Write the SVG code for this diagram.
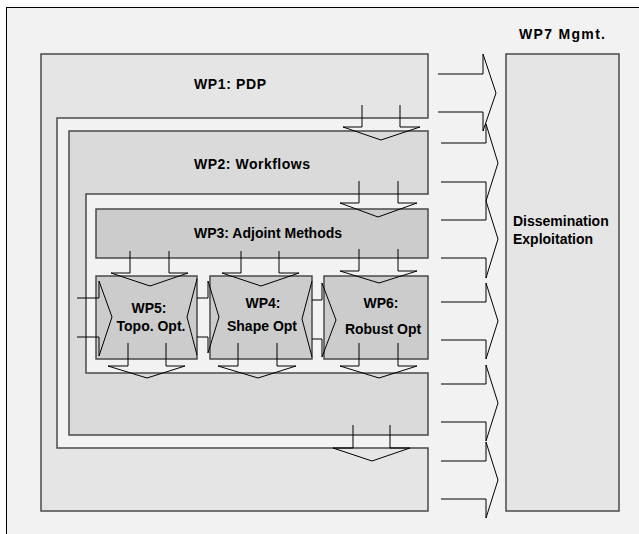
<svg xmlns="http://www.w3.org/2000/svg" width="639" height="534" viewBox="0 0 639 534">
  <defs>
    <style>
      .box { stroke: #4a4a4a; stroke-width: 1.5; }
      .wp1 { fill: #e5e5e5; }
      .wp2 { fill: #dadada; }
      .wp3 { fill: #cccccc; }
      .wp7 { fill: #e5e5e5; }
      .arr { fill: none; stroke: #000; stroke-width: 1; stroke-linejoin: miter; }
      .t { font-family: "Liberation Sans", Arial, Helvetica, sans-serif; font-size: 14px; font-weight: bold; fill: #000; }
      .c { text-anchor: middle; }
    </style>
  </defs>
  <rect x="0" y="0" width="639" height="534" fill="#ffffff"/>
  <rect x="6.5" y="7.5" width="640" height="540" fill="#f2f2f2" stroke="#000" stroke-width="1"/>

  <g id="wp1">
    <path class="box wp1" d="M41,54 H428 V118 H57 V448 H428 V511 H41 Z"/>
    <text class="t" x="194" y="89" textLength="72" lengthAdjust="spacing">WP1: PDP</text>
  </g>
  <g id="wp2">
    <path class="box wp2" d="M69,131 H428 V194 H86 V373 H428 V435 H69 Z"/>
    <text class="t" x="194" y="169" textLength="116" lengthAdjust="spacing">WP2: Workflows</text>
  </g>
  <g id="wp3">
    <rect class="box wp3" x="96" y="209" width="332" height="49"/>
    <text class="t" x="194" y="238">WP3: Adjoint Methods</text>
  </g>
  <g id="wp5">
    <rect class="box wp3" x="96" y="276" width="101" height="83"/>
    <text class="t c" x="149" y="313">WP5:</text>
    <text class="t c" x="151" y="331">Topo. Opt.</text>
  </g>
  <g id="wp4">
    <rect class="box wp3" x="210" y="276" width="102" height="83"/>
    <text class="t c" x="263" y="308">WP4:</text>
    <text class="t c" x="262" y="331">Shape Opt</text>
  </g>
  <g id="wp6">
    <rect class="box wp3" x="324" y="276" width="104" height="83"/>
    <text class="t c" x="381" y="308">WP6:</text>
    <text class="t c" x="383" y="334">Robust Opt</text>
  </g>
  <g id="wp7">
    <rect class="box wp7" x="506" y="54" width="113" height="457"/>
    <text class="t" x="519" y="39" textLength="86" lengthAdjust="spacing">WP7 Mgmt.</text>
    <text class="t" x="513" y="226">Dissemination</text>
    <text class="t" x="513" y="244">Exploitation</text>
  </g>

  <g id="connectors">
    <!-- down arrows -->
    <polyline class="arr" points="362,105 362,127 343,127 381,140 420,127 400,127 400,105"/>
    <polyline class="arr" points="359,181 359,203 340,203 378,217 417,203 398,203 398,181"/>
    <polyline class="arr" points="130,251 130,273 111,273 150,286 188,273 169,273 169,251"/>
    <polyline class="arr" points="241,251 241,273 222,273 261,286 299,273 279,273 279,251"/>
    <polyline class="arr" points="359,249 359,271 340,271 379,283 417,271 398,271 398,249"/>
    <polyline class="arr" points="128,343 128,366 108,366 147,378 185,366 166,366 166,343"/>
    <polyline class="arr" points="238,343 238,366 218,366 258,378 296,366 277,366 277,343"/>
    <polyline class="arr" points="359,343 359,366 340,366 379,378 417,366 398,366 398,343"/>
    <polyline class="arr" points="353,425 353,448 333,448 372,461 410,448 390,448 390,425"/>
    <!-- horizontal arrows between work packages -->
    <polyline class="arr" points="77,298 99,298 99,281 112,317 99,356 99,337 77,337"/>
    <polyline class="arr" points="197,279 187,317 197,355"/>
    <polyline class="arr" points="197,298 208,298 208,281 219,317 208,353 208,337 197,337"/>
    <polyline class="arr" points="312,281 302,319 312,357"/>
    <polyline class="arr" points="312,300 322,300 322,283 336,320 322,357 322,339 312,339"/>
    <!-- arrows to WP7 -->
    <polyline class="arr" points="438,74 483,74 483,54 496,93 483,131 483,112 438,112"/>
    <polyline class="arr" points="441,143 486,143 486,124 498,163 486,201 486,182 441,182"/>
    <polyline class="arr" points="441,220 486,220 486,201 498,239 486,278 486,258 441,258"/>
    <polyline class="arr" points="441,302 486,302 486,283 498,321 486,359 486,340 441,340"/>
    <polyline class="arr" points="441,384 486,384 486,365 498,403 486,441 486,422 441,422"/>
    <polyline class="arr" points="441,461 486,461 486,442 498,480 486,518 486,499 441,499"/>
  </g>
</svg>
